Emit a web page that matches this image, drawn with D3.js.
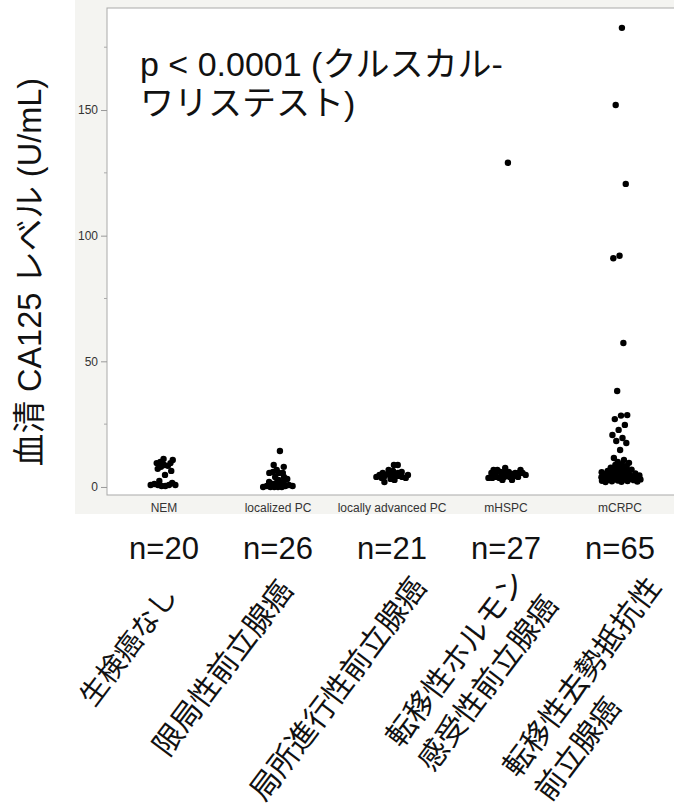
<!DOCTYPE html>
<html>
<head>
<meta charset="utf-8">
<script src="https://cdn.jsdelivr.net/npm/d3@7"></script>
<style>
  html, body { margin: 0; padding: 0; background: #ffffff; }
  svg { display: block; }
  text { font-family: "Liberation Sans", Arial, "Noto Sans CJK JP", sans-serif; }
</style>
</head>
<body>
<svg id="chart" width="674" height="804"></svg>
<script>
// Serum CA125 by disease group
const categories = ["NEM", "localized PC", "locally advanced PC", "mHSPC", "mCRPC"];
const groupCounts = [20, 26, 21, 27, 65];
const groupLabels = [
  ["生検癌なし"],
  ["限局性前立腺癌"],
  ["局所進行性前立腺癌"],
  ["転移性ホルモン", "感受性前立腺癌"],
  ["転移性去勢抵抗性", "前立腺癌"]
];

const nemValues = [8.75, 10, 10.7, 11.1, 9.5, 8.4, 7.2, 6.4, 4.8, 2.4,
  1.6, 0.4, 0.8, 0.8, 0.8, 0.8, 0.4, 1.2, 9.5, 8];
const localizedValues = [14.3, 8.75, 8, 6.8, 6, 5.6, 4, 4, 2.8, 2, 2.4, 0, 0,
  0.4, 0, 0.4, 0, 0.4, 1.6, 1.6, 3.2, 5.6, 1.2, 0.8, 0, 5.6];
const locallyAdvancedValues = [8.75, 6.8, 8.75, 4.8, 4, 5.6, 4.4, 6, 6.4, 5.6,
  4, 3.2, 2, 2.8, 3.6, 3.6, 4.8, 4.8, 4.4, 5.2, 4.8];
const mhspcValues = [129, 6.8, 5.6, 4.8, 3.6, 5.6, 6, 6.8, 6, 6.8, 5.6, 4, 5.6,
  6, 3.6, 4, 4, 3.6, 2.8, 2.8, 4.8, 4.8, 4, 4.4, 7.6, 5.6, 5.2];
const mcrpcValues = [182.7, 152, 120.6, 92, 91, 57.3, 38.2,
  28.6, 28.4, 27, 24.7, 22.7, 20.7, 19.5, 18.3, 17.5, 14.7, 11.5, 10.7, 10,
  9.6, 9.1, 8.8, 8.4, 8.1, 7.7, 7.5, 7.1, 6.9, 6.7, 6.4, 6.4, 6.1, 5.9, 5.7,
  5.6, 5.4, 5.2, 5.1, 4.9, 4.8, 4.6, 4.5, 4.4, 4.2, 4.1, 3.9, 3.8, 3.7, 3.6,
  3.5, 3.4, 3.2, 3.1, 3.0, 2.9, 2.8, 2.7, 2.6, 2.5, 2.4, 2.3, 2.2, 2.1, 2.0];
const groupValues = [nemValues, localizedValues, locallyAdvancedValues, mhspcValues, mcrpcValues];

const yMajorTicks = [0, 50, 100, 150];
const yMinorTicks = [25, 75, 125, 175];
const yTitle = "血清 CA125 レベル (U/mL)";
const statLines = ["p < 0.0001 (クルスカル-", "ワリステスト)"];

// layout
const svg = d3.select("#chart");
const plot = { left: 107, right: 677, top: 8, bottom: 495 };

const x = d3.scaleBand().domain(categories).range([plot.left, plot.right]).padding(0);
const y = d3.scaleLinear().domain([-3.2, 190.6]).range([plot.bottom, plot.top]);
const centre = c => x(c) + x.bandwidth() / 2;

// grey panel behind the plot
svg.append("rect")
  .attr("x", 75).attr("y", 0)
  .attr("width", 674 - 75).attr("height", 514)
  .attr("fill", "#f4f4f1");

// white plot area
svg.append("rect")
  .attr("x", plot.left).attr("y", plot.top)
  .attr("width", plot.right - plot.left).attr("height", plot.bottom - plot.top)
  .attr("fill", "#ffffff")
  .attr("stroke", "#a9a9a9").attr("stroke-width", 1);

// y axis
const yAxis = d3.axisLeft(y).tickValues(yMajorTicks).tickSize(6).tickPadding(3);
const gy = svg.append("g").attr("transform", `translate(${plot.left},0)`).call(yAxis);
gy.select(".domain").remove();
gy.selectAll(".tick line").attr("stroke", "#999");
gy.selectAll(".tick text").attr("fill", "#333").style("font-size", "12px");

svg.append("g").selectAll("line")
  .data(yMinorTicks).join("line")
  .attr("x1", plot.left - 3).attr("x2", plot.left)
  .attr("y1", d => y(d)).attr("y2", d => y(d))
  .attr("stroke", "#aaa");

// x axis labels
const xAxis = d3.axisBottom(x).tickSize(0).tickPadding(8);
const gx = svg.append("g").attr("transform", `translate(0,${plot.bottom})`).call(xAxis);
gx.select(".domain").remove();
gx.selectAll(".tick text").attr("fill", "#333").style("font-size", "12px");

// y title
svg.append("text")
  .attr("transform", `translate(41,272) rotate(-90)`)
  .attr("text-anchor", "middle")
  .style("font-size", "32.5px")
  .attr("fill", "#111")
  .text(yTitle);

// test annotation
svg.append("text")
  .attr("x", 140).attr("y", 76)
  .style("font-size", "34px")
  .attr("fill", "#111")
  .selectAll("tspan").data(statLines).join("tspan")
  .attr("x", 140).attr("dy", (d, i) => i === 0 ? 0 : "1.15em")
  .text(d => d);

// points: quasi-random horizontal jitter inside each category, lightly de-overlapped
const golden = (Math.sqrt(5) - 1) / 2;
const spread = x.bandwidth() * 0.36;
const nodes = [];
groupValues.forEach((vals, gi) => {
  vals.forEach((v, k) => {
    const u = ((k + 1) * golden) % 1 - 0.5;
    nodes.push({ cat: categories[gi], value: v, x: centre(categories[gi]) + u * spread, fy: y(v) });
  });
});
const sim = d3.forceSimulation(nodes)
  .force("x", d3.forceX(d => centre(d.cat)).strength(0.015))
  .force("collide", d3.forceCollide(1.9))
  .stop();
for (let i = 0; i < 120; i++) sim.tick();

svg.append("g").selectAll("circle")
  .data(nodes).join("circle")
  .attr("cx", d => d.x)
  .attr("cy", d => y(d.value))
  .attr("r", 3.2)
  .attr("fill", "#000");

// group sizes
svg.append("g").selectAll("text")
  .data(groupCounts).join("text")
  .attr("x", (d, i) => centre(categories[i]))
  .attr("y", 559)
  .attr("text-anchor", "middle")
  .style("font-size", "31px")
  .attr("fill", "#111")
  .text(d => "n=" + d);

// rotated group names (baseline start of first line, relative to category centre)
const labelStart = [[-70, 708], [-110, 758], [-127, 803], [-105, 749], [-102, 779]];
const labelAngle = -53;
groupLabels.forEach((lines, gi) => {
  const cx = centre(categories[gi]) + labelStart[gi][0];
  const cy = labelStart[gi][1];
  const t = svg.append("text")
    .attr("transform", `translate(${cx},${cy}) rotate(${labelAngle})`)
    .style("font-size", gi === 0 ? "28px" : "30px")
    .style("font-family", "'Noto Sans CJK JP', sans-serif")
    .attr("fill", "#111");
  t.selectAll("tspan").data(lines).join("tspan")
    .attr("x", 0).attr("y", (d, i) => i * 40)
    .text(d => d);
});
</script>
</body>
</html>
